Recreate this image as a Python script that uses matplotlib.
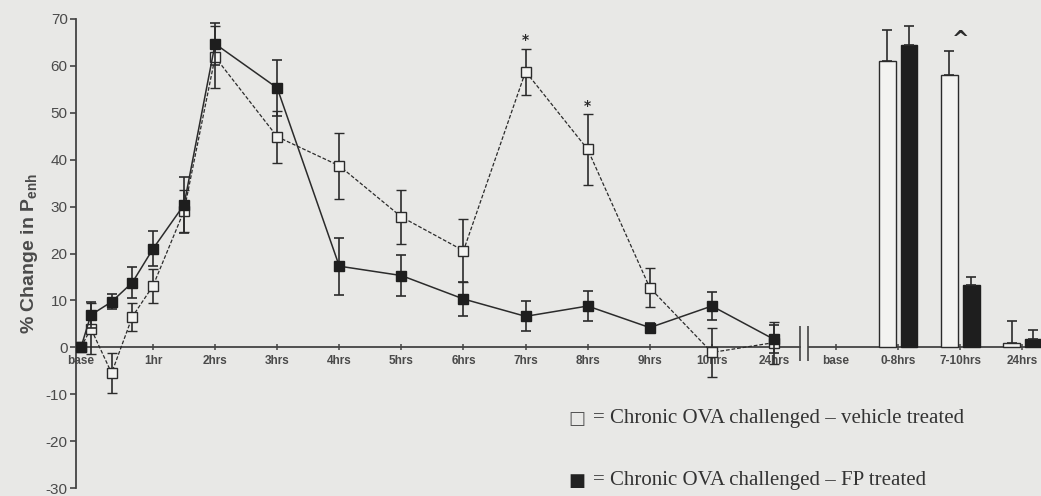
import matplotlib
matplotlib.use('Agg')
import matplotlib.pyplot as plt
import numpy as np

plt.rcParams['axes.unicode_minus'] = False
plt.rcParams['mathtext.fontset'] = 'custom'
plt.rcParams['mathtext.bf'] = 'Liberation Sans:bold'
plt.rcParams['mathtext.rm'] = 'Liberation Sans'

# ---- time-course data (% change in Penh) ----
time_x = [-0.16, 0, 1/3, 2/3, 1, 1.5, 2, 3, 4, 5, 6, 7, 8, 9, 10, 11]
veh_mean = [0, 4.0, -5.5, 6.5, 13.1, 29.1, 61.9, 44.9, 38.7, 27.8, 20.6, 58.8, 42.2, 12.7, -1.1, 1.0]
veh_sem = [0, 5.5, 4.3, 3.0, 3.7, 4.5, 6.7, 5.5, 7.0, 5.8, 6.7, 4.9, 7.5, 4.2, 5.3, 4.5]
fp_mean = [0, 6.9, 9.7, 13.8, 21.0, 30.4, 64.7, 55.3, 17.3, 15.3, 10.3, 6.6, 8.8, 4.2, 8.8, 1.7]
fp_sem = [0, 2.7, 1.6, 3.3, 3.7, 6.0, 4.5, 6.0, 6.1, 4.4, 3.6, 3.2, 3.2, 1.0, 2.9, 3.0]

tick_x = [-0.16, 1, 2, 3, 4, 5, 6, 7, 8, 9, 10, 11, 12, 13, 14, 15]
tick_labels = ['base', '1hr', '2hrs', '3hrs', '4hrs', '5hrs', '6hrs', '7hrs', '8hrs',
               '9hrs', '10hrs', '24hrs', 'base', '0-8hrs', '7-10hrs', '24hrs']

# ---- summary bars ----
bar_x = [13, 14, 15]
veh_bar = [61.1, 58.0, 0.9]
veh_bar_err = [6.5, 5.1, 4.8]
fp_bar = [64.5, 13.2, 1.8]
fp_bar_err = [4.1, 1.8, 1.8]

star_x = [7, 8]
star_y = [65.5, 51.5]

bg = '#e8e8e6'
ink = '#2b2b2b'
txt = '#4a4a4a'

fig = plt.figure(figsize=(10.41, 4.96), dpi=100, facecolor=bg)
ax = fig.add_axes([76/1041, 8/496, 1 - 76/1041, 1 - 27/496])
ax.set_facecolor(bg)
ax.set_xlim(-0.24, 15.30)
ax.set_ylim(-30, 70)

# lines
ax.errorbar(time_x, veh_mean, yerr=veh_sem, color=ink, lw=0.9, ls=(0, (3, 1.5)),
            marker='s', ms=7.5, mfc='#f3f3f1', mec=ink, mew=1.0,
            ecolor=ink, elinewidth=1.2, capsize=3.5, capthick=1.2, zorder=3)
ax.errorbar(time_x, fp_mean, yerr=fp_sem, color=ink, lw=1.1, ls='-',
            marker='s', ms=7.5, mfc='#1e1e1e', mec='#1e1e1e',
            ecolor=ink, elinewidth=1.2, capsize=3.5, capthick=1.2, zorder=4)

# bars
off = 0.175
w = 0.27
bx = np.array(bar_x, dtype=float)
ax.bar(bx - off, veh_bar, width=w, color='#f3f3f1', edgecolor=ink, lw=1.0, zorder=3,
       yerr=[np.zeros(3), veh_bar_err], error_kw=dict(ecolor=ink, elinewidth=1.2, capsize=3.5, capthick=1.2))
ax.bar(bx + off, fp_bar, width=w, color='#1e1e1e', edgecolor='#1e1e1e', lw=1.0, zorder=3,
       yerr=[np.zeros(3), fp_bar_err], error_kw=dict(ecolor=ink, elinewidth=1.2, capsize=3.5, capthick=1.2))

# significance marks
for sx, sy in zip(star_x, star_y):
    ax.text(sx, sy, '*', ha='center', va='center', fontsize=10, fontweight='bold', color=ink)
ax.text(bar_x[1], 65.5, '^', ha='center', va='center', fontsize=15, fontweight='bold', color=ink)

# spines / axes
for s in ['top', 'right']:
    ax.spines[s].set_visible(False)
ax.spines['left'].set_color('#444444')
ax.spines['left'].set_linewidth(1.3)
ax.spines['bottom'].set_position(('data', 0))
ax.spines['bottom'].set_bounds(-0.24, 11.42)
ax.spines['bottom'].set_color('#444444')
ax.spines['bottom'].set_linewidth(1.3)
ax.hlines(0, 11.55, 15.30, color='#444444', lw=1.3, zorder=2)
ax.vlines([11.42, 11.55], -3, 4.5, color='#444444', lw=1.2, zorder=2)

ax.set_yticks(np.arange(-30, 71, 10))
ax.tick_params(axis='y', direction='out', length=4, width=1.2, colors='#444444',
               labelsize=11, labelcolor=txt, pad=2)
for lab in ax.get_yticklabels():
    lab.set_family('Liberation Sans')
ax.set_xticks(tick_x)
ax.set_xticklabels(tick_labels)
ax.tick_params(axis='x', direction='inout', length=5, width=1.1, colors='#444444',
               labelsize=8.5, labelcolor=txt, pad=3)
for lab in ax.get_xticklabels():
    lab.set_family('Liberation Sans')
    lab.set_fontweight('bold')

ax.set_ylabel(r'% Change in P$_{\mathbf{enh}}$', fontsize=14, fontweight='bold',
              color=txt, family='Liberation Sans', labelpad=4)

# legend text
fam = ['Liberation Serif', 'DejaVu Sans']
fig.text(568/1041, 1 - 419/496, '\u25A1', fontsize=13, family=['DejaVu Sans'], color='#555555',
         ha='left', va='center')
fig.text(593/1041, 1 - 419/496, '= Chronic OVA challenged \u2013 vehicle treated', fontsize=15,
         family=fam, color='#333333', ha='left', va='center')
fig.text(568/1041, 1 - 481/496, '\u25A0', fontsize=13, family=['DejaVu Sans'], color='#222222',
         ha='left', va='center')
fig.text(593/1041, 1 - 481/496, '= Chronic OVA challenged \u2013 FP treated', fontsize=15,
         family=fam, color='#333333', ha='left', va='center')

fig.savefig('out.png', dpi=100, facecolor=bg)
